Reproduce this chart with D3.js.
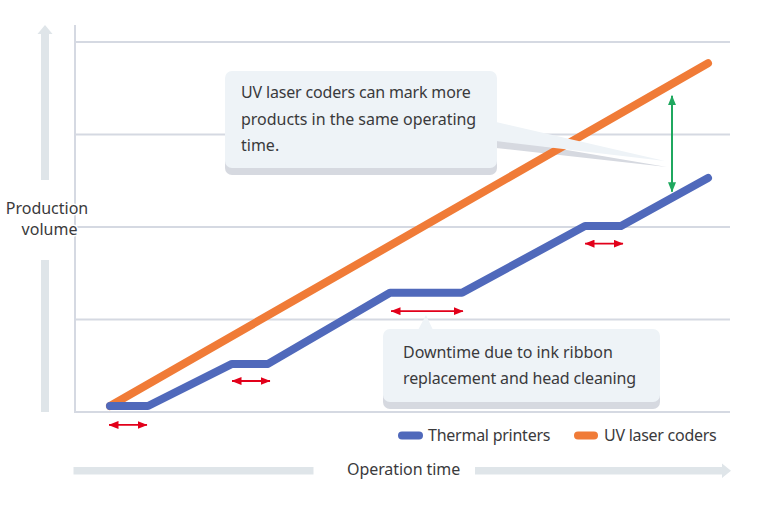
<!DOCTYPE html>
<html><head><meta charset="utf-8">
<script src="https://cdnjs.cloudflare.com/ajax/libs/d3/7.8.5/d3.min.js"></script>
<style>html,body{margin:0;padding:0;background:#fff}svg{display:block}text{font-family:"Noto Sans",sans-serif;fill:#3a3a3c;font-size:16px}</style>
</head><body><svg id="c" width="770" height="507"></svg>
<script>
const gridTicks=[0,1,2,3,4];
const thermalTime=[35,73,157,193,315,387,510,546,633];
const thermalVolume=[0.065,0.065,0.52,0.52,1.29,1.29,2.01,2.01,2.53];
const laserTime=[35,633];
const laserVolume=[0.065,3.77];
const downtimeStart=[34,157,316,510];
const downtimeEnd=[72,195,388,548];
const downtimeLevel=[-0.14,0.335,1.09,1.82];
const gapTime=597, gapFrom=2.38, gapTo=3.42;
const legendLabels=["Thermal printers","UV laser coders"];
const colors={thermal:"#5069bb",laser:"#f07b37",grid:"#d5d9e2",arrow:"#dfe5e9",box:"#eef3f7",shade:"#d6d9e0",red:"#e2001a",green:"#1fa85f"};

const svg=d3.select("#c");
const x=d3.scaleLinear().domain([0,655]).range([75,730]);
const y=d3.scaleLinear().domain([0,4]).range([412,42]);
const defs=svg.append("defs");
function marker(id,c){
  defs.append("marker").attr("id",id).attr("viewBox","0 0 10 8").attr("refX",9.5).attr("refY",4)
    .attr("markerWidth",10).attr("markerHeight",8).attr("markerUnits","userSpaceOnUse").attr("orient","auto-start-reverse")
    .append("path").attr("d","M0,0L10,4L0,8Z").attr("fill",c);
}
marker("r",colors.red);marker("g",colors.green);

// grid
svg.append("g").selectAll("line").data(gridTicks).join("line")
  .attr("x1",x(0)).attr("x2",x(655)).attr("y1",d=>y(d)).attr("y2",d=>y(d))
  .attr("stroke",colors.grid).attr("stroke-width",2);
svg.append("line").attr("x1",x(0)).attr("x2",x(0)).attr("y1",25).attr("y2",413)
  .attr("stroke",colors.grid).attr("stroke-width",2);

// axis arrows
svg.append("path").attr("fill",colors.arrow)
  .attr("d","M41,180V34H37.5L45,25L52.5,34H49V180Z");
svg.append("rect").attr("x",41).attr("y",260).attr("width",8).attr("height",152).attr("fill",colors.arrow);
svg.append("rect").attr("x",73.5).attr("y",467).attr("width",240).attr("height",7.5).attr("fill",colors.arrow);
svg.append("path").attr("fill",colors.arrow)
  .attr("d","M475,467H722V463.5L731,470.75L722,478V474.5H475Z");

// shadow of the first callout's pointer sits beneath the series
svg.append("path").attr("d","M496,138L667,167L496,148Z").attr("fill",colors.shade);

// series
const line=d3.line().x(d=>x(d[0])).y(d=>y(d[1]));
svg.append("path").datum(d3.zip(laserTime,laserVolume)).attr("d",line).attr("fill","none")
  .attr("stroke",colors.laser).attr("stroke-width",8).attr("stroke-linecap","round");
svg.append("path").datum(d3.zip(thermalTime,thermalVolume)).attr("d",line).attr("fill","none")
  .attr("stroke",colors.thermal).attr("stroke-width",8).attr("stroke-linecap","round").attr("stroke-linejoin","round");

// downtime arrows
svg.append("g").selectAll("line").data(d3.range(downtimeStart.length)).join("line")
  .attr("x1",i=>x(downtimeStart[i])).attr("x2",i=>x(downtimeEnd[i]))
  .attr("y1",i=>y(downtimeLevel[i])).attr("y2",i=>y(downtimeLevel[i]))
  .attr("stroke",colors.red).attr("stroke-width",1.8)
  .attr("marker-start","url(#r)").attr("marker-end","url(#r)");
// gap arrow
svg.append("line").attr("x1",x(gapTime)).attr("x2",x(gapTime)).attr("y1",y(gapFrom)).attr("y2",y(gapTo))
  .attr("stroke",colors.green).attr("stroke-width",2)
  .attr("marker-start","url(#g)").attr("marker-end","url(#g)");

// callouts
function callout(bx,by,w,h,sh,tail){
  svg.append("rect").attr("x",bx).attr("y",by+sh).attr("width",w).attr("height",h).attr("rx",7).attr("fill",colors.shade);
  svg.append("path").attr("d",tail).attr("fill",colors.box);
  svg.append("rect").attr("x",bx).attr("y",by).attr("width",w).attr("height",h).attr("rx",7).attr("fill",colors.box);
}
callout(225,71,272,97,7,"M496,122L665,161L496,141Z");
callout(383,329,277,73,7,"M418,330L426,315L433,330Z");
function lines(tx,ys,arr,ls){arr.forEach((t,i)=>svg.append("text").attr("x",tx).attr("y",ys[i]).attr("letter-spacing",ls[i]).text(t));}
lines(241,[98,125,151],["UV laser coders can mark more","products in the same operating","time."],[-0.17,-0.03,0]);
lines(403,[358,384],["Downtime due to ink ribbon","replacement and head cleaning"],[-0.04,-0.14]);

// labels
const halo=s=>s.attr("stroke","#fff").attr("stroke-width",3).attr("paint-order","stroke").attr("text-anchor","middle");
halo(svg.append("text").attr("x",47).attr("y",214).text("Production"));
halo(svg.append("text").attr("x",49.5).attr("y",235).text("volume"));
svg.append("text").attr("x",347).attr("y",475).attr("letter-spacing",-0.07).text("Operation time");

// legend
[[398,423,428,colors.thermal,-0.25],[574,598,604,colors.laser,-0.27]].forEach((p,i)=>{
  svg.append("line").attr("x1",p[0]+4).attr("x2",p[1]-4).attr("y1",435.5).attr("y2",435.5)
    .attr("stroke",p[3]).attr("stroke-width",8).attr("stroke-linecap","round");
  svg.append("text").attr("x",p[2]).attr("y",441).attr("letter-spacing",p[4]).text(legendLabels[i]);
});
</script></body></html>
